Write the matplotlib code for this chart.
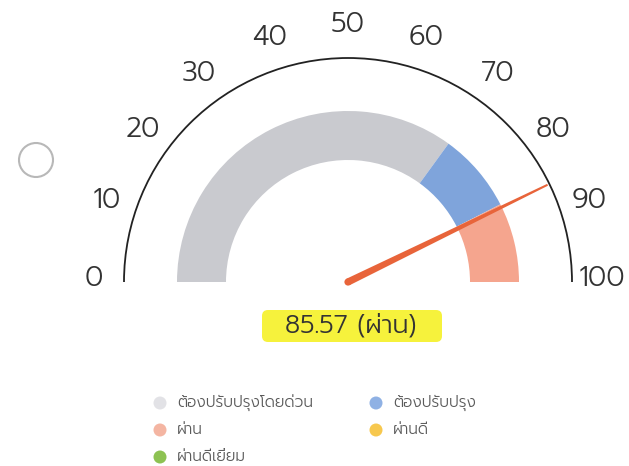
import matplotlib
matplotlib.use("Agg")
import numpy as np
import matplotlib.pyplot as plt
from matplotlib.patches import Wedge, Arc, Polygon, Circle, FancyBboxPatch

plt.rcParams["font.family"] = ["Prompt", "DejaVu Sans"]

# ข้อมูล
tick_values = [0, 10, 20, 30, 40, 50, 60, 70, 80, 90, 100]
band_start = [0, 70, 85]
band_end = [70, 85, 100]
band_colors = ["#c9cacf", "#7fa4db", "#f5a58e"]
legend_labels = ["ต้องปรับปรุงโดยด่วน", "ต้องปรับปรุง", "ผ่าน", "ผ่านดี", "ผ่านดีเยี่ยม"]
legend_colors = ["#e2e2e6", "#8fb1e4", "#f4b5a2", "#f7c84e", "#8dc252"]
score = 85.57
status = "ผ่าน"

W, H = 629, 466
cx, cy = 348, H - 282
r_arc = 224
r_in, r_out = 122, 171
r_lab = 254


def ang(v):
    return 180 - v * 1.8


fig = plt.figure(figsize=(W / 100, H / 100), dpi=100)
ax = fig.add_axes([0, 0, 1, 1])
ax.set_xlim(0, W)
ax.set_ylim(0, H)
ax.set_aspect("equal")
ax.axis("off")

# แถบสี
for s, e, c in zip(band_start, band_end, band_colors):
    ax.add_patch(Wedge((cx, cy), r_out, ang(e), ang(s), width=r_out - r_in,
                       facecolor=c, edgecolor="none"))

# เส้นโค้งด้านนอก
ax.add_patch(Arc((cx, cy), 2 * r_arc, 2 * r_arc, theta1=0, theta2=180,
                 color="#222222", lw=1.3))

for v in tick_values:
    a = np.radians(ang(v))
    ax.text(cx + r_lab * np.cos(a), cy + 3 + r_lab * np.sin(a), str(v),
            ha="center", va="center", fontsize=20, color="#333333", fontweight=300)

# เข็ม
a = np.radians(ang(score))
L = 222
d = np.array([np.cos(a), np.sin(a)])
n = np.array([-d[1], d[0]])
base = np.array([cx, cy])
pts = [base + n * 3.6, base + d * L + n * 1.0, base + d * L - n * 1.0, base - n * 3.6]
ax.add_patch(Polygon(pts, closed=True, facecolor="#e8643a", edgecolor="none"))
ax.add_patch(Circle((cx, cy), 3.6, facecolor="#e8643a", edgecolor="none"))

# ค่าคะแนน
ax.add_patch(FancyBboxPatch((262, H - 342), 180, 32, boxstyle="round,pad=0,rounding_size=6",
                            facecolor="#f6f23c", edgecolor="none"))
ax.text(351, H - 326, f"{score:.2f} ({status})", ha="center", va="center",
        fontsize=18.5, color="#333333", fontweight=300)

# วงกลมด้านซ้าย
ax.add_patch(Circle((36, H - 160), 17, facecolor="white", edgecolor="#b8b8b8", lw=1.5))

# คำอธิบาย
leg_x = [160, 376, 160, 376, 160]
leg_y = [403, 403, 430, 430, 457]
for lab, col, x, y in zip(legend_labels, legend_colors, leg_x, leg_y):
    ax.add_patch(Circle((x, H - y), 6.5, facecolor=col, edgecolor="none"))
    ax.text(x + 17, H - y, lab, ha="left", va="center", fontsize=11,
            color="#5a5a5a", fontweight=300)

fig.savefig("out.png", dpi=100, facecolor="white")
